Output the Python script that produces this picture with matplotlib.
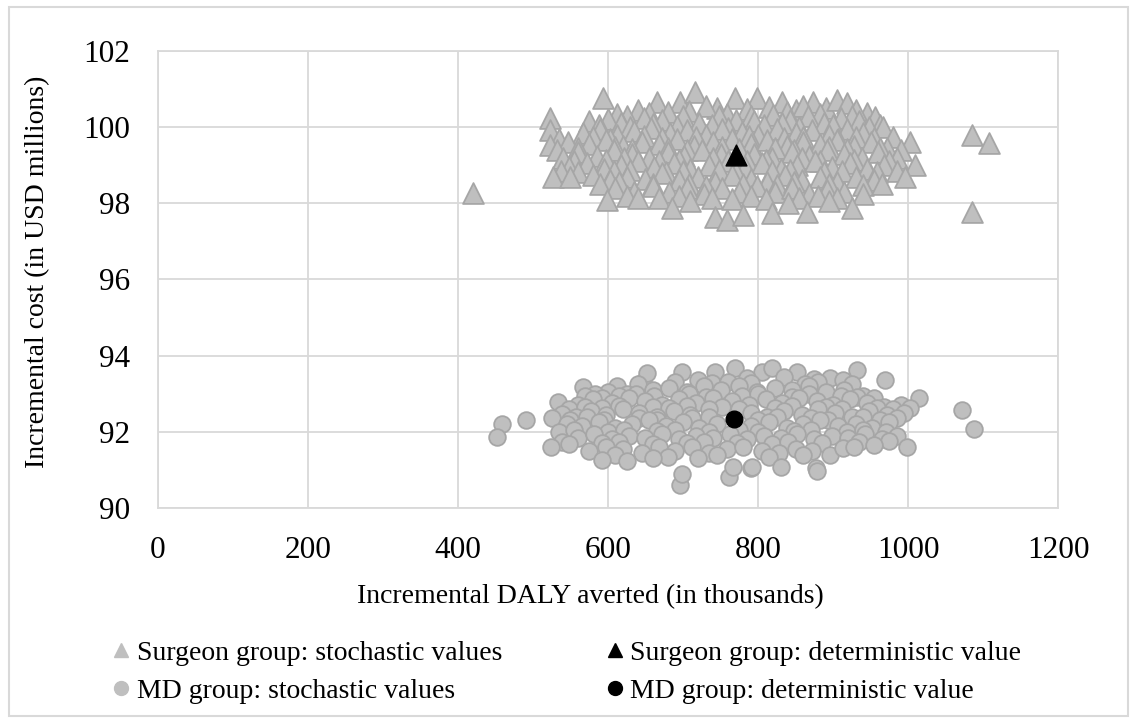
import matplotlib
matplotlib.use("Agg")
import matplotlib.pyplot as plt
from matplotlib.lines import Line2D
from matplotlib.patches import Rectangle

plt.rcParams['font.family'] = ['Liberation Serif', 'DejaVu Serif']

# Surgeon group, stochastic values (row by row)
surgeon_x = [594, 640, 665, 696, 716, 745, 769, 799, 832, 850, 873, 890, 905, 918, 945, 956, 625, 680, 730, 785, 815, 860, 930,
             612, 655, 708, 758, 790, 838, 882, 925,
             575, 600, 618, 648, 672, 700, 722, 748, 771, 795, 820, 842, 866, 888, 910, 935, 962, 523,
             588, 630, 660, 692, 738, 760, 808, 832, 855, 900, 948,
             523, 567, 590, 612, 635, 658, 683, 706, 730, 752, 778, 800, 825, 850, 872, 895, 918, 940, 967, 980,
             535, 580, 603, 648, 672, 718, 765, 788, 835, 860, 906, 930, 955,
             523, 547, 575, 598, 620, 645, 668, 692, 715, 740, 790, 812, 838, 860, 882, 905, 928, 950, 972, 1003,
             532, 560, 610, 632, 680, 705, 752, 775, 822, 848, 895, 918, 962, 990,
             540, 560, 585, 608, 632, 655, 680, 702, 725, 750, 795, 818, 845, 868, 892, 915, 938, 960, 985,
             555, 598, 622, 668, 695, 740, 785, 810, 858, 882, 928, 975,
             548, 572, 595, 618, 640, 662, 688, 710, 735, 760, 782, 805, 830, 852, 876, 898, 922, 945, 968, 1009,
             538, 560, 608, 630, 678, 700, 748, 770, 818, 842, 888, 912, 958, 985,
             527, 549, 580, 603, 625, 650, 672, 695, 720, 742, 765, 790, 812, 836, 858, 882, 905, 930, 955, 996,
             590, 615, 660, 708, 730, 780, 825, 848, 895, 940, 965,
             610, 635, 660, 682, 705, 728, 752, 775, 798, 822, 845, 868, 892, 915, 940,
             625, 668, 695, 738, 765, 790, 810, 855, 880, 905,
             599, 640, 685, 710, 743, 759, 780, 818, 840, 865, 895, 925,
             420, 1085, 1108, 1085]
surgeon_y = [100.77, 100.45, 100.66, 100.66, 100.92, 100.5, 100.77, 100.77, 100.66, 100.45, 100.66, 100.5, 100.7, 100.63, 100.37, 100.27, 100.3, 100.4, 100.55, 100.48, 100.52, 100.55, 100.45,
             100.35, 100.38, 100.42, 100.35, 100.3, 100.4, 100.35, 100.3,
             100.15, 100.22, 100.1, 100.25, 100.18, 100.3, 100.12, 100.28, 100.2, 100.15, 100.32, 100.2, 100.28, 100.12, 100.25, 100.15, 100.05, 100.24,
             100.05, 100.0, 100.08, 100.02, 100.05, 99.98, 100.05, 100.1, 100.0, 100.05, 100.0,
             99.93, 99.85, 99.95, 99.8, 99.9, 99.98, 99.85, 99.92, 99.8, 99.95, 99.88, 99.8, 99.95, 99.85, 99.92, 99.8, 99.95, 99.85, 100.0, 99.75,
             99.7, 99.75, 99.7, 99.78, 99.72, 99.75, 99.7, 99.78, 99.72, 99.75, 99.7, 99.75, 99.72,
             99.53, 99.6, 99.55, 99.65, 99.5, 99.62, 99.55, 99.68, 99.5, 99.6, 99.55, 99.65, 99.5, 99.62, 99.55, 99.65, 99.5, 99.6, 99.45, 99.6,
             99.4, 99.45, 99.48, 99.42, 99.45, 99.4, 99.48, 99.42, 99.45, 99.4, 99.48, 99.42, 99.45, 99.4,
             99.2, 99.35, 99.25, 99.4, 99.3, 99.2, 99.35, 99.25, 99.4, 99.3, 99.3, 99.2, 99.35, 99.25, 99.4, 99.3, 99.2, 99.35, 99.2,
             99.12, 99.15, 99.18, 99.12, 99.15, 99.18, 99.12, 99.15, 99.18, 99.12, 99.15, 99.1,
             98.95, 99.05, 98.9, 99.0, 99.1, 98.95, 99.05, 98.9, 99.0, 99.1, 98.95, 99.05, 98.9, 99.0, 99.1, 98.95, 99.05, 98.9, 99.0, 99.0,
             98.85, 98.82, 98.85, 98.88, 98.82, 98.85, 98.88, 98.82, 98.85, 98.88, 98.82, 98.85, 98.82, 98.85,
             98.7, 98.7, 98.75, 98.6, 98.7, 98.65, 98.8, 98.6, 98.7, 98.55, 98.75, 98.65, 98.55, 98.75, 98.6, 98.7, 98.55, 98.7, 98.6, 98.7,
             98.5, 98.55, 98.52, 98.5, 98.45, 98.5, 98.48, 98.55, 98.5, 98.48, 98.52,
             98.4, 98.3, 98.45, 98.3, 98.4, 98.25, 98.4, 98.3, 98.45, 98.3, 98.4, 98.25, 98.35, 98.3, 98.25,
             98.2, 98.15, 98.2, 98.15, 98.1, 98.2, 98.1, 98.15, 98.2, 98.15,
             98.08, 98.15, 97.88, 98.05, 97.64, 97.56, 97.7, 97.74, 98.0, 97.78, 98.05, 97.88,
             98.27, 99.8, 99.58, 97.77]

# MD group, stochastic values
md_x = [647, 652, 699, 743, 769, 805, 819, 852, 896, 913, 932, 969, 567, 720, 785, 835, 875,
        612, 640, 690, 738, 760, 790, 862, 880, 925,
        600, 625, 660, 682, 705, 728, 750, 775, 798, 822, 845, 868, 890, 915, 940, 583,
        570, 592, 615, 638, 662, 708, 730, 778, 800, 845, 868, 910, 932, 955,
        533, 560, 580, 605, 628, 650, 672, 695, 718, 740, 765, 788, 810, 832, 855, 878, 900, 922, 945, 968, 990, 1015,
        548, 570, 592, 615, 660, 682, 705, 752, 775, 822, 845, 890, 912, 958, 980, 1003,
        539, 558, 578, 598, 620, 642, 665, 688, 710, 735, 790, 812, 835, 858, 880, 903, 925, 948, 972, 995, 1072,
        525, 550, 572, 595, 642, 665, 712, 735, 800, 825, 870, 893, 940, 962, 985,
        459, 491, 545, 565, 588, 610, 632, 655, 678, 700, 722, 745, 790, 815, 838, 860, 883, 906, 930, 952, 975, 1088,
        535, 555, 600, 622, 665, 690, 735, 775, 800, 848, 870, 918, 940, 970,
        452, 539, 560, 582, 605, 628, 650, 672, 695, 718, 740, 762, 785, 808, 830, 852, 875, 898, 920, 942, 965, 985,
        548, 592, 615, 660, 705, 728, 772, 818, 840, 885, 935, 975,
        524, 575, 598, 620, 645, 668, 690, 712, 735, 758, 780, 805, 828, 850, 872, 896, 913, 928, 955, 999,
        610, 680, 745, 815, 860,
        592, 625, 660, 696, 699, 761, 767, 791, 792, 831, 877, 879, 720]
md_y = [93.31, 93.54, 93.57, 93.57, 93.67, 93.57, 93.67, 93.57, 93.41, 93.36, 93.62, 93.36, 93.18, 93.35, 93.4, 93.45, 93.38,
        93.2, 93.25, 93.3, 93.28, 93.3, 93.28, 93.25, 93.3, 93.25,
        93.05, 93.0, 93.1, 93.15, 93.05, 93.2, 93.1, 93.2, 93.05, 93.15, 93.1, 93.2, 93.05, 93.1, 92.95, 93.0,
        92.95, 92.9, 92.95, 93.0, 92.95, 93.0, 92.92, 92.95, 93.0, 92.92, 92.98, 92.95, 92.92, 92.9,
        92.78, 92.7, 92.85, 92.75, 92.9, 92.8, 92.7, 92.85, 92.75, 92.9, 92.8, 92.7, 92.85, 92.75, 92.9, 92.8, 92.7, 92.85, 92.75, 92.65, 92.7, 92.89,
        92.6, 92.65, 92.62, 92.68, 92.65, 92.62, 92.68, 92.65, 92.6, 92.62, 92.68, 92.65, 92.6, 92.62, 92.6, 92.62,
        92.47, 92.4, 92.55, 92.45, 92.6, 92.5, 92.4, 92.55, 92.45, 92.6, 92.5, 92.4, 92.55, 92.45, 92.6, 92.5, 92.4, 92.55, 92.45, 92.5, 92.57,
        92.35, 92.3, 92.38, 92.32, 92.35, 92.3, 92.35, 92.38, 92.32, 92.38, 92.35, 92.3, 92.38, 92.32, 92.35,
        92.2, 92.31, 92.2, 92.15, 92.25, 92.1, 92.2, 92.3, 92.15, 92.25, 92.1, 92.2, 92.15, 92.25, 92.1, 92.2, 92.3, 92.15, 92.2, 92.1, 92.25, 92.07,
        92.0, 92.05, 92.0, 92.05, 92.02, 92.05, 92.0, 92.05, 92.0, 92.02, 92.05, 92.0, 92.05, 92.0,
        91.86, 91.73, 91.85, 91.95, 91.8, 91.9, 91.85, 91.95, 91.8, 91.9, 91.85, 91.95, 91.8, 91.9, 91.85, 91.95, 91.8, 91.9, 91.85, 91.95, 91.8, 91.9,
        91.68, 91.7, 91.72, 91.68, 91.7, 91.72, 91.7, 91.68, 91.72, 91.7, 91.72, 91.75,
        91.6, 91.5, 91.6, 91.55, 91.45, 91.6, 91.5, 91.6, 91.45, 91.55, 91.6, 91.5, 91.45, 91.55, 91.5, 91.39, 91.57, 91.6, 91.65, 91.6,
        91.4, 91.35, 91.4, 91.35, 91.4,
        91.26, 91.23, 91.3, 90.6, 90.89, 90.81, 91.07, 91.04, 91.07, 91.07, 91.04, 90.98, 91.3]

# deterministic values
surgeon_det = (770, 99.27)
md_det = (768, 92.33)

x_ticks = [0, 200, 400, 600, 800, 1000, 1200]
y_ticks = [90, 92, 94, 96, 98, 100, 102]

gray_face = '#bfbfbf'
gray_edge = '#a6a6a6'
grid_col = '#d9d9d9'

fig = plt.figure(figsize=(11.34, 7.23), dpi=100)
ax = fig.add_axes([0.1393, 0.2974, 0.7937, 0.6321])

ax.scatter(surgeon_x, surgeon_y, marker='^', s=15**2, facecolor=gray_face, edgecolor=gray_edge, linewidth=1.3, zorder=3)
ax.scatter(md_x, md_y, marker='o', s=12**2, facecolor=gray_face, edgecolor=gray_edge, linewidth=1.3, zorder=3)
ax.scatter([surgeon_det[0]], [surgeon_det[1]], marker='^', s=15**2, color='black', zorder=4)
ax.scatter([md_det[0]], [md_det[1]], marker='o', s=12**2, color='black', zorder=4)

ax.set_xlim(0, 1200)
ax.set_ylim(90, 102)
ax.set_xticks(x_ticks)
ax.set_yticks(y_ticks)
ax.tick_params(length=0, labelsize=22.5, pad=20)
ax.grid(True, color=grid_col, linewidth=1.3, zorder=0)
ax.set_axisbelow(True)
for sp in ax.spines.values():
    sp.set_color(grid_col)
    sp.set_linewidth(1.3)

fig.text(590 / 1134, 1 - 597 / 723, 'Incremental DALY averted (in thousands)', fontsize=20, ha='center', va='center')
fig.text(38 / 1134, 1 - 272 / 723, 'Incremental cost (in USD millions)', fontsize=20, ha='center', va='center',
         rotation=90)

handles = [
    Line2D([], [], marker='^', linestyle='none', markersize=10, markerfacecolor=gray_face, markeredgecolor=gray_face),
    Line2D([], [], marker='o', linestyle='none', markersize=10, markerfacecolor=gray_face, markeredgecolor=gray_face),
    Line2D([], [], marker='^', linestyle='none', markersize=10, color='black'),
    Line2D([], [], marker='o', linestyle='none', markersize=10, color='black'),
]
labels = ['Surgeon group: stochastic values', 'MD group: stochastic values',
          'Surgeon group: deterministic value', 'MD group: deterministic value']
fig.legend(handles, labels, ncol=2, loc='upper left', bbox_to_anchor=(102 / 1134, 1 - 629 / 723),
           frameon=False, fontsize=20, handlelength=0.6, handletextpad=0.25, columnspacing=3.75,
           labelspacing=0.45, borderaxespad=0)

fig.patches.append(Rectangle((9 / 1134, 1 - 716 / 723), 1119 / 1134, 709 / 723, transform=fig.transFigure,
                             fill=False, edgecolor=grid_col, linewidth=1.5))

fig.savefig('out.png', dpi=100)
